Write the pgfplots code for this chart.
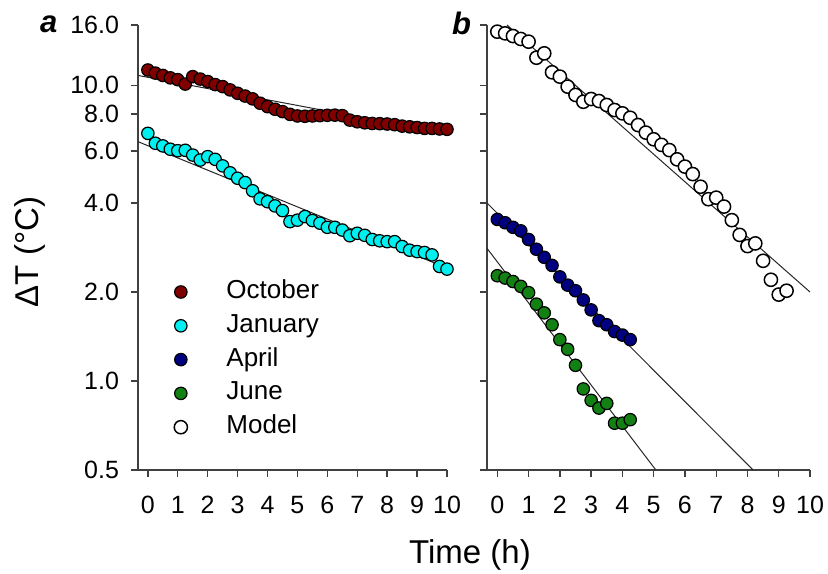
\documentclass[border=0pt]{standalone}
\usepackage{fontspec}
\setmainfont{Liberation Sans}
\usepackage{pgfplots}
\pgfplotsset{compat=1.18}
\definecolor{oct}{HTML}{800000}
\definecolor{jan}{HTML}{00F0F0}
\definecolor{apr}{HTML}{000080}
\definecolor{jun}{HTML}{138013}
\definecolor{axgray}{HTML}{404040}

\pgfplotsset{
  fitline/.style={black!85, line width=0.5pt, forget plot},
  dots/.style={only marks, mark=*, mark size=3.1pt,
    mark options={draw=black, line width=0.6pt, fill=#1}},
  mdots/.style={only marks, mark=*, mark size=3.3pt,
    mark options={draw=black, line width=0.75pt, fill=white}},
}

\begin{document}
\begin{tikzpicture}
\path[use as bounding box] (0pt,0pt) rectangle (414pt,286.5pt);

% panel a
\begin{axis}[ymode=log, ymin=0.5, ymax=16, xmin=-0.33, xmax=10,
  scale only axis, width=154.5pt, height=222.5pt,
  at={(69pt,51.5pt)}, anchor=south west,
  axis x line*=bottom, axis y line*=left,
  axis line style={axgray, line width=0.7pt},
  tick style={axgray, line width=0.7pt},
  tick align=outside, major tick length=3.5pt,
  xtick={0,1,2,3,4,5,6,7,8,9,10}, ytick={0.5,1,2,4,6,8,10,16},
  yticklabels={0.5,1.0,2.0,4.0,6.0,8.0,10.0,16.0},
  xticklabels={0,1,2,3,4,5,6,7,8,9,10},
  yminorticks=false,
  tick label style={font=\fontsize{12.5}{14}\selectfont},
  xticklabel style={yshift=-6pt},
  yticklabel style={xshift=-2.5pt},
  clip mode=individual,
  legend style={draw=none, fill=none, at={(0.116,0.429)}, anchor=north west,
    font=\fontsize{13}{15}\selectfont, inner sep=0pt, row sep=4.4pt,
    nodes={inner sep=0pt, text height=9.5pt, text depth=3pt},
    /tikz/every odd column/.append style={column sep=19.5pt}},
  legend cell align=left]
\addplot[fitline] coordinates {(-0.33,10.8) (10,6.87)};
\addplot[fitline] coordinates {(-0.33,6.45) (10,2.41)};
\addplot[dots=oct] coordinates {
(0,11.27)(0.25,11.0)(0.5,10.8)(0.75,10.6)(1,10.45)(1.25,10.1)(1.5,10.7)(1.75,10.5)
(2,10.3)(2.25,10.06)(2.5,9.9)(2.75,9.65)(3,9.4)(3.25,9.2)(3.5,9.0)(3.75,8.7)
(4,8.47)(4.25,8.3)(4.5,8.15)(4.75,7.98)(5,7.88)(5.25,7.86)(5.5,7.88)(5.75,7.9)
(6,7.92)(6.25,7.93)(6.5,7.9)(6.75,7.63)(7,7.53)(7.25,7.47)(7.5,7.43)(7.75,7.42)
(8,7.4)(8.25,7.36)(8.5,7.28)(8.75,7.24)(9,7.2)(9.25,7.15)(9.5,7.15)(9.75,7.12)(10,7.1)};
\addlegendentry{October}
\addplot[dots=jan] coordinates {
(0,6.88)(0.25,6.37)(0.5,6.24)(0.75,6.08)(1,6.01)(1.25,6.03)(1.5,5.81)(1.75,5.59)
(2,5.74)(2.25,5.62)(2.5,5.34)(2.75,5.06)(3,4.85)(3.25,4.69)(3.5,4.40)(3.75,4.13)
(4,4.04)(4.25,3.91)(4.5,3.77)(4.75,3.46)(5,3.50)(5.25,3.60)(5.5,3.49)(5.75,3.42)
(6,3.31)(6.25,3.31)(6.5,3.24)(6.75,3.10)(7,3.16)(7.25,3.11)(7.5,3.01)(7.75,2.98)
(8,2.96)(8.25,2.96)(8.5,2.85)(8.75,2.77)(9,2.74)(9.25,2.72)(9.5,2.67)(9.75,2.44)(10,2.39)};
\addlegendentry{January}
\addlegendimage{dots=apr}
\addlegendentry{April}
\addlegendimage{dots=jun}
\addlegendentry{June}
\addlegendimage{mdots}
\addlegendentry{Model}
\end{axis}

% panel b
\begin{axis}[ymode=log, ymin=0.5, ymax=16, xmin=-0.33, xmax=10,
  scale only axis, width=161.5pt, height=222.5pt,
  at={(243.5pt,51.5pt)}, anchor=south west,
  axis x line*=bottom, axis y line*=left,
  axis line style={axgray, line width=0.7pt},
  tick style={axgray, line width=0.7pt},
  tick align=outside, major tick length=3.5pt,
  xtick={0,1,2,3,4,5,6,7,8,9,10}, ytick={0.5,1,2,4,6,8,10,16},
  yticklabels={},
  xticklabels={0,1,2,3,4,5,6,7,8,9,10},
  yminorticks=false,
  tick label style={font=\fontsize{12.5}{14}\selectfont},
  xticklabel style={yshift=-6pt},
  clip mode=individual]
\addplot[fitline] coordinates {(0.31,16) (10,2.0)};
\addplot[fitline] coordinates {(-0.33,4.0) (8.18,0.5)};
\addplot[fitline] coordinates {(-0.33,2.81) (5.07,0.5)};
\addplot[mdots] coordinates {
(0,15.19)(0.25,14.99)(0.5,14.68)(0.75,14.35)(1,14.05)(1.25,12.4)(1.5,12.83)(1.75,11.07)
(2,10.7)(2.25,9.9)(2.5,9.28)(2.75,8.8)(3,8.99)(3.25,8.85)(3.5,8.58)(3.75,8.25)
(4,8.04)(4.25,7.77)(4.5,7.34)(4.75,6.92)(5,6.57)(5.25,6.29)(5.5,6.04)(5.75,5.62)
(6,5.31)(6.25,5.01)(6.5,4.54)(6.75,4.12)(7,4.17)(7.25,3.89)(7.5,3.50)(7.75,3.12)
(8,2.86)(8.25,2.92)(8.5,2.55)(8.75,2.20)(9,1.96)(9.25,2.02)};
\addplot[dots=apr] coordinates {
(0,3.52)(0.25,3.43)(0.5,3.31)(0.75,3.22)(1,3.01)(1.25,2.79)(1.5,2.62)(1.75,2.46)
(2,2.25)(2.25,2.11)(2.5,2.02)(2.75,1.88)(3,1.74)(3.25,1.60)(3.5,1.55)(3.75,1.47)
(4,1.43)(4.25,1.38)};
\addplot[dots=jun] coordinates {
(0,2.27)(0.25,2.23)(0.5,2.17)(0.75,2.09)(1,1.99)(1.25,1.82)(1.5,1.70)(1.75,1.55)
(2,1.38)(2.25,1.28)(2.5,1.13)(2.75,0.94)(3,0.86)(3.25,0.81)(3.5,0.84)(3.75,0.72)
(4,0.72)(4.25,0.74)};
\end{axis}

\node[anchor=base west, font=\fontsize{15.5}{18}\selectfont\bfseries\itshape] at (16.5pt,270pt) {a};
\node[anchor=base west, font=\fontsize{15.5}{18}\selectfont\bfseries\itshape] at (222.5pt,269pt) {b};
\node[anchor=base, rotate=90, font=\fontsize{16.5}{19}\selectfont] at (19pt,160.5pt) {ΔT (°C)};
\node[anchor=base, font=\fontsize{16.5}{19}\selectfont] at (235pt,5pt) {Time (h)};
\end{tikzpicture}
\end{document}
